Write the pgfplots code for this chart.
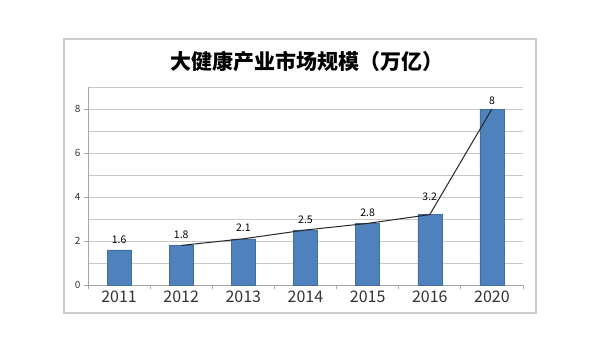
\documentclass[border=0pt]{standalone}
\usepackage{fontspec}
\setmainfont{Noto Sans CJK SC}
\usepackage{pgfplots}
\pgfplotsset{compat=1.18}
\definecolor{barblue}{HTML}{4F81BD}
\definecolor{gridgray}{HTML}{C8C8C8}
\definecolor{framegray}{HTML}{CCCCCC}
\definecolor{txtgray}{HTML}{333333}
\begin{document}
\begin{tikzpicture}
\path[use as bounding box, fill=white] (-88pt,-67pt) rectangle (512pt,285pt);
\draw[framegray, line width=1.4pt] (-24pt,-28pt) rectangle (448pt,246pt);
\node[font=\bfseries\fontsize{21}{23}\selectfont, text=black] at (219pt,223pt) {大健康产业市场规模（万亿）};
\begin{axis}[
  at={(0,0)}, anchor=south west,
  width=435pt, height=198pt, scale only axis,
  xmin=0, xmax=7, ymin=0, ymax=9,
  axis x line=bottom, axis y line=left,
  axis line style={-, draw=gray!70, line width=0.8pt},
  xtick={0,...,7}, x tick label as interval,
  xticklabels={2011,2012,2013,2014,2015,2016,2020},
  x tick label style={font=\fontsize{16}{18}\selectfont, text=txtgray, yshift=2pt},
  ytick={0,2,4,6,8}, minor ytick={1,3,5,7,9},
  y tick label style={font=\fontsize{10}{12}\selectfont, text=txtgray},
  /pgf/number format/assume math mode=true,
  ymajorgrids, yminorgrids,
  major grid style={gridgray, line width=0.8pt},
  minor grid style={gridgray, line width=0.8pt},
  tick align=outside, major tick length=4pt, minor tick length=0pt,
  tick style={gray!70, line width=0.8pt},
  clip=false,
]
\addplot[ybar, bar width=24pt, fill=barblue, draw=barblue!85!black,
  nodes near coords,
  visualization depends on={\thisrow{s} \as \lblshift},
  every node near coord/.append style={font=\fontsize{10.5}{12}\selectfont, text=black, yshift=\lblshift pt}]
  table[x=x, y=y] {
  x   y   s
  0.5 1.6 3
  1.5 1.8 3
  2.5 2.1 4
  3.5 2.5 3
  4.5 2.8 3
  5.5 3.2 10
  6.5 8   1
  };
\addplot[black!85, line width=1pt, mark=none]
  coordinates {(1.5,1.8) (2.5,2.1) (3.5,2.5) (4.5,2.8) (5.5,3.2) (6.5,8)};
\end{axis}
\end{tikzpicture}
\end{document}
